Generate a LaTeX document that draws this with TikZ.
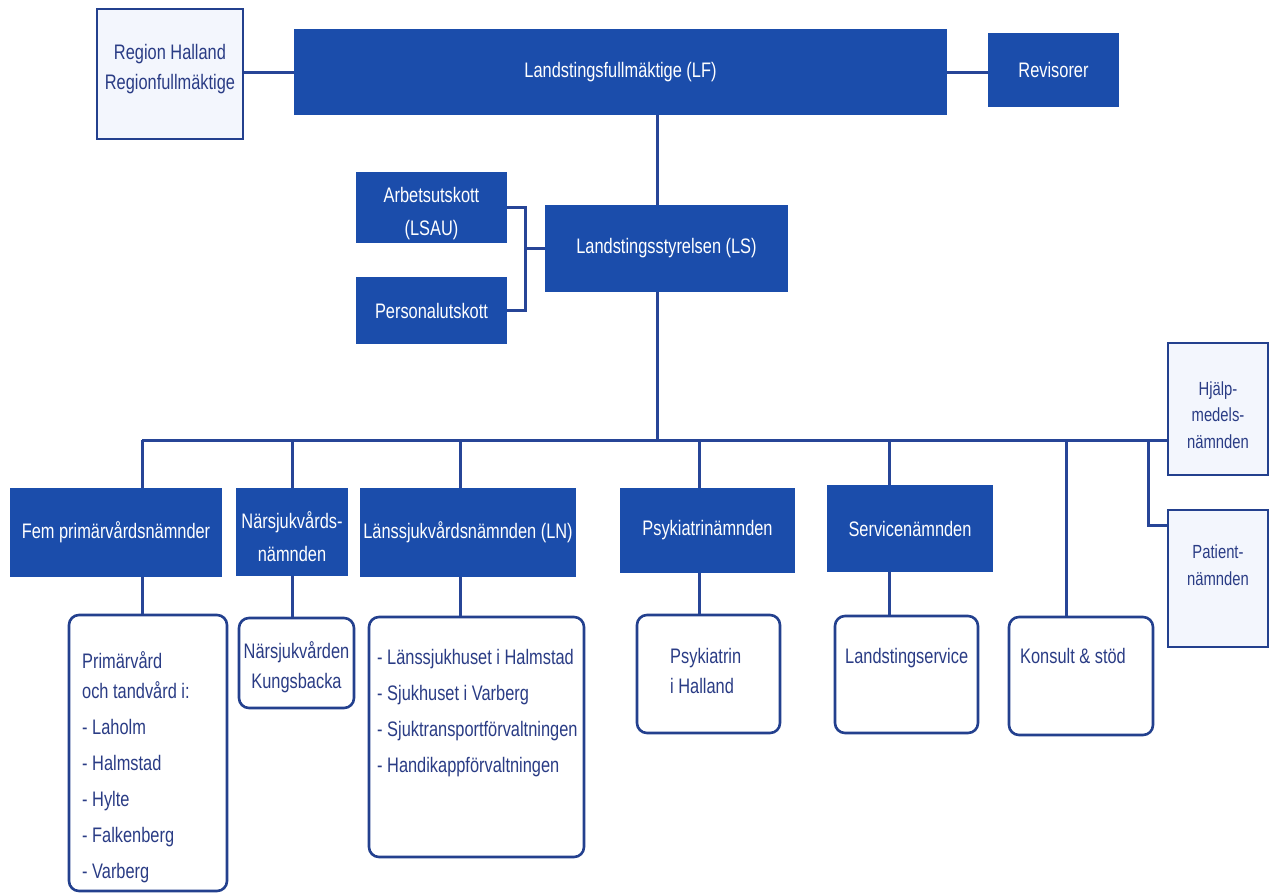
\documentclass[tikz,border=0pt]{standalone}
\usepackage{fontspec}
\setmainfont{Liberation Sans}[FakeStretch=0.78]
\usetikzlibrary{fit}

\definecolor{orgblue}{HTML}{1B4DAB}
\definecolor{linecol}{HTML}{274597}
\definecolor{edgecol}{HTML}{23408E}
\definecolor{ink}{HTML}{2A3C85}
\definecolor{paleblue}{HTML}{F3F6FD}

\tikzset{
  solidbox/.style={fill=orgblue, draw=none, inner sep=0pt},
  palebox/.style={fill=paleblue, draw=edgecol, line width=2.6pt, inner sep=0pt},
  unitbox/.style={fill=white, draw=edgecol, line width=2.6pt, rounded corners=10pt, inner sep=0pt},
  headtext/.style={text=white, inner sep=0pt, align=center},
  bodytext/.style={text=ink, inner sep=0pt},
  link/.style={draw=linecol, line width=3pt},
}

\begin{document}
\begin{tikzpicture}[x=1pt, y=-1pt, every node/.style={font=\fontsize{21}{30}\selectfont}]
\useasboundingbox[fill=white] (0,0) rectangle (1279,895);

% --- top level ---
\node[palebox, fit={(97,9) (243,139)}] (reg) {};
\node[bodytext, align=center] (regt) at (170,69) {Region Halland\\Regionfullmäktige};
\node[solidbox, fit={(294,29) (947,115)}] (lf) {};
\node[headtext] (lft) at (lf.center) {Landstingsfullmäktige (LF)};
\node[solidbox, fit={(988,33) (1119,107)}] (rev) {};
\node[headtext] (revt) at (rev.center) {Revisorer};

% --- board and committees ---
\node[solidbox, fit={(545,205) (788,292)}] (ls) {};
\node[headtext] (lst) at (ls.center) {Landstingsstyrelsen (LS)};
\node[solidbox, fit={(356,172) (507,243)}] (arb) {};
\node[headtext, font=\fontsize{21}{33}\selectfont] (arbt) at ([yshift=-6]arb.center) {Arbetsutskott\\(LSAU)};
\node[solidbox, fit={(356,277) (507,344)}] (per) {};
\node[headtext] (pert) at (per.center) {Personalutskott};

% --- side boards ---
\node[palebox, fit={(1168,343) (1268,475)}] (hj) {};
\node[bodytext, align=center, font=\fontsize{19}{26.5}\selectfont] (hjt) at (1218,415) {Hjälp-\\medels-\\nämnden};
\node[palebox, fit={(1168,510) (1268,647)}] (pat) {};
\node[bodytext, align=center, font=\fontsize{19}{26.5}\selectfont] (patt) at (1218,565) {Patient-\\nämnden};

% --- boards ---
\node[solidbox, fit={(10,488) (222,577)}] (fem) {};
\node[headtext] (femt) at (fem.center) {Fem primärvårdsnämnder};
\node[solidbox, fit={(236,488) (348,576)}] (nar) {};
\node[headtext, font=\fontsize{21}{33}\selectfont] (nart) at ([yshift=-5]nar.center) {Närsjukvårds-\\nämnden};
\node[solidbox, fit={(360,488) (576,577)}] (lans) {};
\node[headtext] (lanst) at (lans.center) {Länssjukvårdsnämnden (LN)};
\node[solidbox, fit={(620,488) (795,573)}] (psy) {};
\node[headtext] (psyt) at (psy.center) {Psykiatrinämnden};
\node[solidbox, fit={(827,485) (993,572)}] (ser) {};
\node[headtext] (sert) at (ser.center) {Servicenämnden};

% --- administrations (multi-line texts are anchored at their last baseline) ---
\node[unitbox, fit={(69,615) (227,891)}] (femc) {};
\node[bodytext, align=left, anchor=base west, font=\fontsize{21}{30}\selectfont] (femct) at (82,878)
  {Primärvård\\och tandvård i:\\[6pt]- Laholm\\[6pt]- Halmstad\\[6pt]- Hylte\\[6pt]- Falkenberg\\[6pt]- Varberg};
\node[unitbox, fit={(239,618) (354,708)}] (narc) {};
\node[bodytext, align=center, anchor=base, font=\fontsize{21}{30}\selectfont] (narct) at (296.5,688)
  {Närsjukvården\\Kungsbacka};
\node[unitbox, fit={(369,617) (584,857)}] (lansc) {};
\node[bodytext, align=left, anchor=base west, font=\fontsize{21}{36}\selectfont] (lansct) at (377,772)
  {- Länssjukhuset i Halmstad\\- Sjukhuset i Varberg\\- Sjuktransportförvaltningen\\- Handikappförvaltningen};
\node[unitbox, fit={(637,615) (780,733)}] (psyc) {};
\node[bodytext, align=left, anchor=base west] (psyct) at (670,693) {Psykiatrin\\i Halland};
\node[unitbox, fit={(835,616) (978,733)}] (serc) {};
\node[bodytext, anchor=base west] (serct) at (845,663) {Landstingservice};
\node[unitbox, fit={(1009,617) (1153,735)}] (kon) {};
\node[bodytext, anchor=base west] (kont) at (1020,663) {Konsult \& stöd};

% --- connectors: top ---
\draw[link] (reg.east |- lf.west) -- (lf.west);
\draw[link] (lf.east) -- (lf.east -| rev.west);
\coordinate (spine) at (657,0);
\draw[link] (spine |- lf.south) -- (spine |- ls.north);

% committee bracket
\coordinate (brk) at (525,248);
\draw[link] (arb.east) -| (brk |- per.east) -- (per.east);
\draw[link] (brk) -- (brk -| ls.west);

% --- connectors: bus ---
\coordinate (busL) at (142,440);
\draw[link] (spine |- ls.south) -- (spine |- busL);
\draw[link] (busL) -- (busL -| hj.west);

\coordinate (d1) at (142,440);
\coordinate (d2) at (292,440);
\coordinate (d3) at (460,440);
\coordinate (d4) at (699,440);
\coordinate (d5) at (889,440);
\coordinate (d6) at (1066,440);
\coordinate (d7) at (1148,440);

\draw[link] (d1) -- (d1 |- fem.north);
\draw[link] (d1 |- fem.south) -- (d1 |- femc.north);
\draw[link] (d2) -- (d2 |- nar.north);
\draw[link] (d2 |- nar.south) -- (d2 |- narc.north);
\draw[link] (d3) -- (d3 |- lans.north);
\draw[link] (d3 |- lans.south) -- (d3 |- lansc.north);
\draw[link] (d4) -- (d4 |- psy.north);
\draw[link] (d4 |- psy.south) -- (d4 |- psyc.north);
\draw[link] (d5) -- (d5 |- ser.north);
\draw[link] (d5 |- ser.south) -- (d5 |- serc.north);
\draw[link] (d6) -- (d6 |- kon.north);
\coordinate (pb) at (1148,525);
\draw[link] (d7) -- (pb) -- (pb -| pat.west);
\end{tikzpicture}
\end{document}
